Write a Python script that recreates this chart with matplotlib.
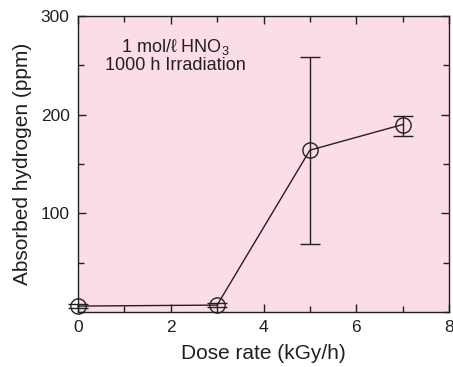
import matplotlib
matplotlib.use("Agg")
import matplotlib.pyplot as plt
from matplotlib.ticker import MultipleLocator
from matplotlib.transforms import Affine2D

plt.rcParams['font.family'] = ['Liberation Sans', 'DejaVu Sans']
plt.rcParams['mathtext.fontset'] = 'custom'
plt.rcParams['mathtext.rm'] = 'Liberation Sans'
plt.rcParams['mathtext.it'] = 'Liberation Sans'
plt.rcParams['mathtext.default'] = 'regular'

dose = [0, 3, 5, 7]
hydrogen = [6, 7, 164, 190]
err_low = [2, 2, 95, 12]
err_high = [2, 2, 94, 9]

TXT = '#231f20'
W, H = 453, 367
fig = plt.figure(figsize=(W/100, H/100), dpi=100)
ax = fig.add_axes([78/W, 1-312/H, (449-78)/W, (312-16)/H])
ax.set_facecolor('#fbdde8')

ax.errorbar(dose, hydrogen, yerr=[err_low, err_high], color=TXT, lw=1.0,
            marker='o', ms=11, mfc='none', mec=TXT, mew=1.0,
            capsize=7, capthick=1.0, elinewidth=1.0, clip_on=False, zorder=3)

ax.set_xlim(0, 8)
ax.set_ylim(0, 300)
ax.set_xticks([0, 2, 4, 6, 8])
ax.set_yticks([100, 200, 300])
ax.xaxis.set_minor_locator(MultipleLocator(1))
ax.yaxis.set_minor_locator(MultipleLocator(50))
ax.tick_params(which='both', direction='in', top=True, right=True,
               colors=TXT, labelsize=12.5, width=1)
ax.tick_params(which='major', length=6, pad=6)
ax.tick_params(which='minor', length=4)
for s in ax.spines.values():
    s.set_color(TXT)
    s.set_linewidth(1.0)

ax.set_xlabel('Dose rate (kGy/h)', fontsize=15, color=TXT, labelpad=6)
ax.set_ylabel('Absorbed hydrogen (ppm)', fontsize=15, color=TXT, labelpad=6)

# pixel coordinates measured from top-left of figure
pix = Affine2D().scale(1/W, -1/H).translate(0, 1) + fig.transFigure
fig.text(175, 47, '1 mol/ℓ HNO$_3$', transform=pix, fontsize=13, color=TXT,
         ha='center', va='center')
fig.text(175, 65, '1000 h Irradiation', transform=pix, fontsize=13,
         color=TXT, ha='center', va='center')

fig.savefig('out.png', dpi=100)
